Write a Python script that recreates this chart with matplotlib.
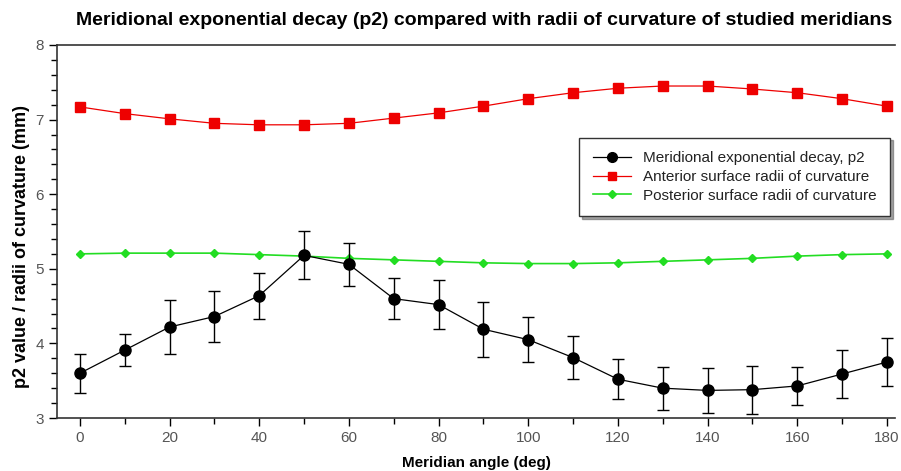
import numpy as np
import matplotlib
matplotlib.use("Agg")
import matplotlib.pyplot as plt
from matplotlib.ticker import MultipleLocator
from matplotlib.lines import Line2D

# Meridian angles (deg)
angles = [0, 10, 20, 30, 40, 50, 60, 70, 80, 90, 100, 110, 120, 130, 140, 150, 160, 170, 180]

# Meridional exponential decay, p2 (mean and error)
p2 = [3.60, 3.91, 4.22, 4.36, 4.64, 5.18, 5.06, 4.60, 4.52, 4.19, 4.05, 3.81,
      3.52, 3.40, 3.37, 3.38, 3.43, 3.59, 3.75]
p2_err = [0.26, 0.21, 0.36, 0.34, 0.31, 0.32, 0.29, 0.27, 0.33, 0.37, 0.30, 0.29,
          0.27, 0.29, 0.30, 0.32, 0.25, 0.32, 0.32]

# Anterior surface radii of curvature (mm)
anterior = [7.17, 7.08, 7.01, 6.95, 6.93, 6.93, 6.95, 7.02, 7.09, 7.18, 7.28, 7.36,
            7.42, 7.45, 7.45, 7.41, 7.36, 7.28, 7.18]

# Posterior surface radii of curvature (mm)
posterior = [5.20, 5.21, 5.21, 5.21, 5.19, 5.17, 5.14, 5.12, 5.10, 5.08, 5.07, 5.07,
             5.08, 5.10, 5.12, 5.14, 5.17, 5.19, 5.20]

labels = ['Meridional exponential decay, p2',
          'Anterior surface radii of curvature',
          'Posterior surface radii of curvature']

plt.rcParams['font.family'] = ['Liberation Sans', 'DejaVu Sans']

fig = plt.figure(figsize=(9.01, 4.71), dpi=100)
ax = fig.add_axes([0.0633, 0.1125, 0.930, 0.792])

ax.errorbar(angles, p2, yerr=p2_err, color='black', marker='o', markersize=8,
            linewidth=0.9, elinewidth=1.0, capsize=4, capthick=1.0, zorder=3)
ax.plot(angles, anterior, color='#ee0000', marker='s', markersize=7,
        linewidth=0.9, zorder=2)
ax.plot(angles, posterior, color='#22dd22', marker='D', markersize=4,
        linewidth=1.2, zorder=2)

ax.set_xlim(-5.1, 181.8)
ax.set_ylim(3, 8)
ax.xaxis.set_major_locator(MultipleLocator(20))
ax.xaxis.set_minor_locator(MultipleLocator(10))
ax.yaxis.set_major_locator(MultipleLocator(1))
ax.yaxis.set_minor_locator(MultipleLocator(0.2))
ax.tick_params(which='major', length=6, width=1, direction='out',
               labelsize=11, labelcolor='#555555')
ax.tick_params(which='minor', length=4, width=1, direction='out')
ax.spines['right'].set_visible(False)
for s in ['left', 'bottom', 'top']:
    ax.spines[s].set_linewidth(1.2)
    ax.spines[s].set_color('#333333')

ax.set_xlabel('Meridian angle (deg)', fontsize=11, fontweight='bold', labelpad=8)
ax.set_ylabel('p2 value / radii of curvature (mm)', fontsize=13, fontweight='bold')
ax.yaxis.set_label_coords(-0.032, 0.46)
fig.text(0.537, 0.957, 'Meridional exponential decay (p2) compared with radii of curvature of studied meridians',
         ha='center', va='center', fontsize=14, fontweight='bold')

handles = [Line2D([], [], color='black', marker='o', markersize=7, linewidth=0.9),
           Line2D([], [], color='#ee0000', marker='s', markersize=6, linewidth=0.9),
           Line2D([], [], color='#22dd22', marker='D', markersize=4, linewidth=1.2)]
leg = ax.legend(handles, labels, loc='upper left', bbox_to_anchor=(0.634, 0.724),
                bbox_transform=fig.transFigure, fontsize=11,
                frameon=True, fancybox=False, shadow=True, borderpad=0.9,
                handlelength=2.5, labelspacing=0.3)
leg.get_frame().set_edgecolor('#333333')
leg.get_frame().set_linewidth(1.0)
for t in leg.get_texts():
    t.set_color('#222222')

fig.savefig('out.png', dpi=100)
